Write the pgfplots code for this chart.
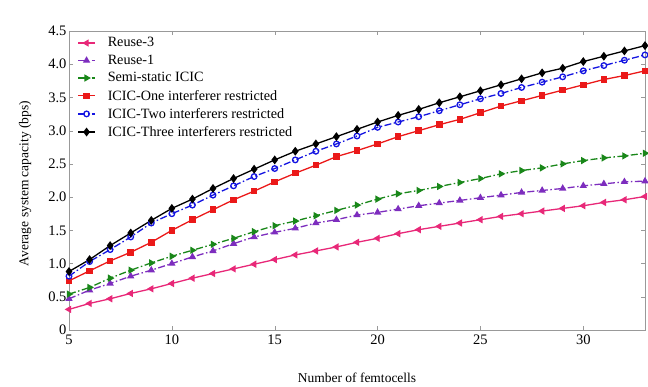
\documentclass[border=0pt]{standalone}
\usepackage{pgfplots}
\pgfplotsset{compat=1.18}
\usepackage{fontspec}
\setmainfont{Liberation Serif}
\definecolor{cpink}{RGB}{232,40,120}
\definecolor{cpurple}{RGB}{125,45,190}
\definecolor{cgreen}{RGB}{25,135,25}
\definecolor{cred}{RGB}{235,25,25}
\definecolor{cblue}{RGB}{20,20,225}
\begin{document}
\begin{tikzpicture}
\useasboundingbox (0,0) rectangle (648pt,386pt);
\begin{axis}[
  at={(69pt,56pt)}, anchor=south west,
  scale only axis, width=576pt, height=299pt,
  xmin=5, xmax=33, ymin=0, ymax=4.5,
  xtick={5,10,15,20,25,30},
  ytick={0,0.5,1,1.5,2,2.5,3,3.5,4,4.5},
  yticklabels={0,0.5,1.0,1.5,2.0,2.5,3.0,3.5,4.0,4.5},
  tick align=inside, tick pos=both,
  major tick length=4pt,
  axis line style={gray!80},
  tick style={gray!80},
  /pgf/number format/assume math mode=true,
  ticklabel style={font=\fontsize{14.5}{16}\selectfont},
  xticklabel style={yshift=-1pt},
  yticklabel style={xshift=1pt},
  xlabel={Number of femtocells},
  xlabel style={at={(axis description cs:0.5,-0.16)}, anchor=center, font=\fontsize{13.5}{16}\selectfont},
  ylabel={Average system capacity (bps)},
  ylabel style={at={(axis description cs:-0.076,0.49)}, anchor=center, rotate=0, font=\fontsize{13.5}{16}\selectfont},
  legend style={at={(axis description cs:0.009,0.992)}, anchor=north west, draw=none, fill=none,
    font=\fontsize{14.2}{16}\selectfont, row sep=2.6pt,
    /tikz/every odd column/.append style={column sep=10pt}},
  legend cell align=left,
  mark size=3pt,
  every axis plot/.append style={line width=1.3pt},
]
\addplot[cpink, solid, mark=triangle*, mark options={rotate=90, solid, fill=cpink}] coordinates {
(5,0.31)(6,0.40)(7,0.47)(8,0.55)(9,0.62)(10,0.70)(11,0.78)(12,0.85)(13,0.92)(14,0.99)(15,1.06)(16,1.13)(17,1.19)(18,1.25)(19,1.32)(20,1.38)(21,1.45)(22,1.51)(23,1.56)(24,1.61)(25,1.66)(26,1.71)(27,1.75)(28,1.79)(29,1.83)(30,1.87)(31,1.92)(32,1.96)(33,2.01)};
\addlegendentry{Reuse-3}
\addplot[cpurple, dash pattern=on 7pt off 2.5pt on 1.5pt off 2.5pt, mark=triangle*, mark options={solid, fill=cpurple}] coordinates {
(5,0.47)(6,0.60)(7,0.70)(8,0.81)(9,0.90)(10,1.00)(11,1.10)(12,1.19)(13,1.30)(14,1.40)(15,1.47)(16,1.53)(17,1.61)(18,1.66)(19,1.73)(20,1.77)(21,1.82)(22,1.87)(23,1.91)(24,1.95)(25,1.99)(26,2.03)(27,2.07)(28,2.10)(29,2.13)(30,2.17)(31,2.20)(32,2.23)(33,2.24)};
\addlegendentry{Reuse-1}
\addplot[cgreen, dash pattern=on 7pt off 2.5pt on 1.5pt off 2.5pt, mark=triangle*, mark options={rotate=-90, solid, fill=cgreen}] coordinates {
(5,0.54)(6,0.64)(7,0.78)(8,0.90)(9,1.01)(10,1.11)(11,1.20)(12,1.29)(13,1.38)(14,1.48)(15,1.57)(16,1.64)(17,1.72)(18,1.80)(19,1.88)(20,1.97)(21,2.05)(22,2.10)(23,2.16)(24,2.22)(25,2.28)(26,2.35)(27,2.40)(28,2.44)(29,2.50)(30,2.55)(31,2.59)(32,2.62)(33,2.66)};
\addlegendentry{Semi-static ICIC}
\addplot[cred, solid, mark=square*, mark size=2.6pt, mark options={solid, fill=cred}] coordinates {
(5,0.74)(6,0.89)(7,1.04)(8,1.17)(9,1.32)(10,1.50)(11,1.66)(12,1.81)(13,1.96)(14,2.09)(15,2.23)(16,2.36)(17,2.48)(18,2.61)(19,2.70)(20,2.80)(21,2.91)(22,3.00)(23,3.09)(24,3.17)(25,3.27)(26,3.37)(27,3.45)(28,3.53)(29,3.61)(30,3.69)(31,3.77)(32,3.83)(33,3.90)};
\addlegendentry{ICIC-One interferer restricted}
\addplot[cblue, dash pattern=on 7pt off 2.5pt on 1.5pt off 2.5pt, mark=o, mark size=2.8pt, mark options={solid, fill=white}] coordinates {
(5,0.81)(6,1.03)(7,1.21)(8,1.40)(9,1.61)(10,1.75)(11,1.88)(12,2.03)(13,2.17)(14,2.31)(15,2.43)(16,2.56)(17,2.69)(18,2.80)(19,2.92)(20,3.05)(21,3.13)(22,3.21)(23,3.30)(24,3.39)(25,3.48)(26,3.56)(27,3.65)(28,3.73)(29,3.81)(30,3.90)(31,3.98)(32,4.06)(33,4.14)};
\addlegendentry{ICIC-Two interferers restricted}
\addplot[black, solid, mark=diamond*, mark size=3.4pt, mark options={solid, fill=black}] coordinates {
(5,0.88)(6,1.06)(7,1.27)(8,1.46)(9,1.65)(10,1.83)(11,1.97)(12,2.13)(13,2.28)(14,2.42)(15,2.56)(16,2.69)(17,2.80)(18,2.91)(19,3.02)(20,3.13)(21,3.23)(22,3.32)(23,3.42)(24,3.51)(25,3.60)(26,3.69)(27,3.78)(28,3.87)(29,3.94)(30,4.04)(31,4.12)(32,4.20)(33,4.28)};
\addlegendentry{ICIC-Three interferers restricted}
\node[anchor=south west, font=\fontsize{14}{16}\selectfont, inner sep=0pt] at (axis description cs:-0.005,1.025) {$\times 10^{8}$};
\end{axis}
\end{tikzpicture}
\end{document}
